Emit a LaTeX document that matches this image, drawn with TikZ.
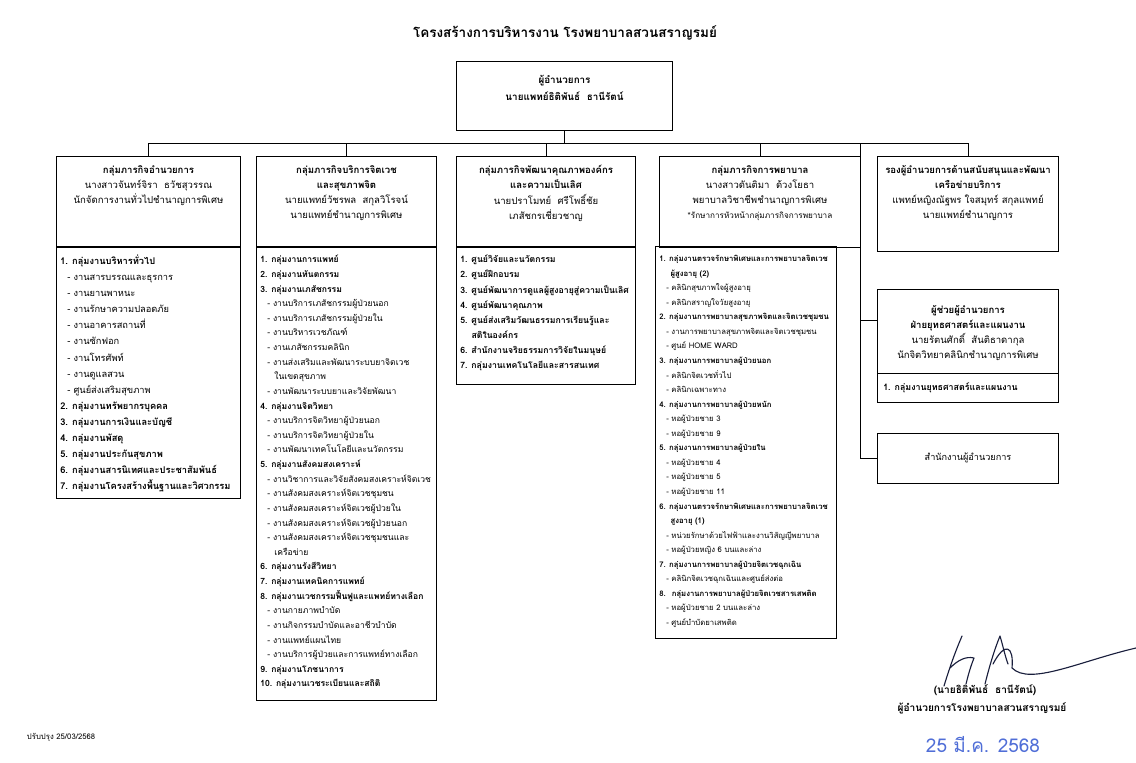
\documentclass[tikz,border=0pt]{standalone}
\usepackage{fontspec}
\setmainfont[Script=Thai]{Loma}
\definecolor{stampblue}{RGB}{80,110,215}
\definecolor{inkblue}{RGB}{25,30,60}
\newcommand{\grp}[1]{\textbf{#1}}
\newcommand{\sbt}[1]{\hspace*{5pt}- #1}

\begin{document}
\begin{tikzpicture}[x=0.025cm, y=-0.025cm,
  frame/.style={draw, line width=0.7pt, inner sep=0pt},
  headtext/.style={align=center, anchor=north, inner sep=0pt, font=\fontsize{6.8}{10.8}\selectfont},
  listtext/.style={align=left, anchor=north west, inner sep=0pt},
  wire/.style={line width=0.7pt}]
\useasboundingbox (0,0) rectangle (1136,762);

\node (title) at (565,33) {\fontsize{9.6}{12}\selectfont\bfseries โครงสร้างการบริหารงาน โรงพยาบาลสวนสราญรมย์};

\node[frame, minimum width=5.375cm, minimum height=1.7cm] (dirbox) at (564.5,96) {};
\node[headtext, font=\fontsize{7}{11.8}\selectfont\bfseries] (dirtext) at (564.5,75) {ผู้อำนวยการ\\นายแพทย์ธิติพันธ์~~ธานีรัตน์};

\node[frame, minimum width=4.575cm, minimum height=2.25cm] (admhead) at (148.5,202) {};
\node[frame, minimum width=4.575cm, minimum height=6.275cm] (admlist) at (148.5,372.5) {};
\node[headtext] (admtext) at (148.5,165) {\textbf{กลุ่มภารกิจอำนวยการ}\\นางสาวจันทร์จิรา~~ธวัชสุวรรณ\\นักจัดการงานทั่วไปชำนาญการพิเศษ};
\node[listtext, font=\fontsize{6.6}{11.4}\selectfont] (admitems) at (60,255) {\grp{1. กลุ่มงานบริหารทั่วไป}\\
\sbt{งานสารบรรณและธุรการ}\\
\sbt{งานยานพาหนะ}\\
\sbt{งานรักษาความปลอดภัย}\\
\sbt{งานอาคารสถานที่}\\
\sbt{งานซักฟอก}\\
\sbt{งานโทรศัพท์}\\
\sbt{งานดูแลสวน}\\
\sbt{ศูนย์ส่งเสริมสุขภาพ}\\
\grp{2. กลุ่มงานทรัพยากรบุคคล}\\
\grp{3. กลุ่มงานการเงินและบัญชี}\\
\grp{4. กลุ่มงานพัสดุ}\\
\grp{5. กลุ่มงานประกันสุขภาพ}\\
\grp{6. กลุ่มงานสารนิเทศและประชาสัมพันธ์}\\
\grp{7. กลุ่มงานโครงสร้างพื้นฐานและวิศวกรรม}};

\node[frame, minimum width=4.475cm, minimum height=2.25cm] (psyhead) at (346.5,202) {};
\node[frame, minimum width=4.475cm, minimum height=11.325cm] (psylist) at (346.5,473.5) {};
\node[headtext] (psytext) at (346.5,165) {\textbf{กลุ่มภารกิจบริการจิตเวช}\\\textbf{และสุขภาพจิต}\\นายแพทย์วัชรพล~~สกุลวิโรจน์\\นายแพทย์ชำนาญการพิเศษ};
\node[listtext, font=\fontsize{6.1}{10.4}\selectfont] (psyitems) at (260,255) {\grp{1. กลุ่มงานการแพทย์}\\
\grp{2. กลุ่มงานทันตกรรม}\\
\grp{3. กลุ่มงานเภสัชกรรม}\\
\sbt{งานบริการเภสัชกรรมผู้ป่วยนอก}\\
\sbt{งานบริการเภสัชกรรมผู้ป่วยใน}\\
\sbt{งานบริหารเวชภัณฑ์}\\
\sbt{งานเภสัชกรรมคลินิก}\\
\sbt{งานส่งเสริมและพัฒนาระบบยาจิตเวช}\\
\hspace*{10pt}ในเขตสุขภาพ\\
\sbt{งานพัฒนาระบบยาและวิจัยพัฒนา}\\
\grp{4. กลุ่มงานจิตวิทยา}\\
\sbt{งานบริการจิตวิทยาผู้ป่วยนอก}\\
\sbt{งานบริการจิตวิทยาผู้ป่วยใน}\\
\sbt{งานพัฒนาเทคโนโลยีและนวัตกรรม}\\
\grp{5. กลุ่มงานสังคมสงเคราะห์}\\
\sbt{งานวิชาการและวิจัยสังคมสงเคราะห์จิตเวช}\\
\sbt{งานสังคมสงเคราะห์จิตเวชชุมชน}\\
\sbt{งานสังคมสงเคราะห์จิตเวชผู้ป่วยใน}\\
\sbt{งานสังคมสงเคราะห์จิตเวชผู้ป่วยนอก}\\
\sbt{งานสังคมสงเคราะห์จิตเวชชุมชนและ}\\
\hspace*{10pt}เครือข่าย\\
\grp{6. กลุ่มงานรังสีวิทยา}\\
\grp{7. กลุ่มงานเทคนิคการแพทย์}\\
\grp{8. กลุ่มงานเวชกรรมฟื้นฟูและแพทย์ทางเลือก}\\
\sbt{งานกายภาพบำบัด}\\
\sbt{งานกิจกรรมบำบัดและอาชีวบำบัด}\\
\sbt{งานแพทย์แผนไทย}\\
\sbt{งานบริการผู้ป่วยและการแพทย์ทางเลือก}\\
\grp{9. กลุ่มงานโภชนาการ}\\
\grp{10. กลุ่มงานเวชระเบียนและสถิติ}};

\node[frame, minimum width=4.45cm, minimum height=2.25cm] (qualhead) at (546,202) {};
\node[frame, minimum width=4.45cm, minimum height=3.425cm] (quallist) at (546,315.5) {};
\node[headtext] (qualtext) at (546,165) {\textbf{กลุ่มภารกิจพัฒนาคุณภาพองค์กร}\\\textbf{และความเป็นเลิศ}\\นายปราโมทย์~~ศรีโพธิ์ชัย\\เภสัชกรเชี่ยวชาญ};
\node[listtext, font=\fontsize{6.2}{10.7}\selectfont] (qualitems) at (460,255) {\grp{1. ศูนย์วิจัยและนวัตกรรม}\\
\grp{2. ศูนย์ฝึกอบรม}\\
\grp{3. ศูนย์พัฒนาการดูแลผู้สูงอายุสู่ความเป็นเลิศ}\\
\grp{4. ศูนย์พัฒนาคุณภาพ}\\
\grp{5. ศูนย์ส่งเสริมวัฒนธรรมการเรียนรู้และ}\\
\hspace*{8pt}\grp{สติในองค์กร}\\
\grp{6. สำนักงานจริยธรรมการวิจัยในมนุษย์}\\
\grp{7. กลุ่มงานเทคโนโลยีและสารสนเทศ}};

\node[frame, minimum width=5cm, minimum height=2.25cm] (nurhead) at (760,202) {};
\node[frame, minimum width=4.5cm, minimum height=9.775cm] (nurlist) at (746,442.5) {};
\node[headtext] (nurtext) at (760,165) {\textbf{กลุ่มภารกิจการพยาบาล}\\นางสาวดันติมา~~ด้วงโยธา\\พยาบาลวิชาชีพชำนาญการพิเศษ\\{\fontsize{5.8}{10.8}\selectfont *รักษาการหัวหน้ากลุ่มภารกิจการพยาบาล}};
\node[listtext, font=\fontsize{5.5}{10.35}\selectfont] (nuritems) at (659,255) {\grp{1. กลุ่มงานตรวจรักษาพิเศษและการพยาบาลจิตเวช}\\
\hspace*{8pt}\grp{ผู้สูงอายุ (2)}\\
\sbt{คลินิกสุขภาพใจผู้สูงอายุ}\\
\sbt{คลินิกสราญใจวัยสูงอายุ}\\
\grp{2. กลุ่มงานการพยาบาลสุขภาพจิตและจิตเวชชุมชน}\\
\sbt{งานการพยาบาลสุขภาพจิตและจิตเวชชุมชน}\\
\sbt{ศูนย์ HOME WARD}\\
\grp{3. กลุ่มงานการพยาบาลผู้ป่วยนอก}\\
\sbt{คลินิกจิตเวชทั่วไป}\\
\sbt{คลินิกเฉพาะทาง}\\
\grp{4. กลุ่มงานการพยาบาลผู้ป่วยหนัก}\\
\sbt{หอผู้ป่วยชาย 3}\\
\sbt{หอผู้ป่วยชาย 9}\\
\grp{5. กลุ่มงานการพยาบาลผู้ป่วยใน}\\
\sbt{หอผู้ป่วยชาย 4}\\
\sbt{หอผู้ป่วยชาย 5}\\
\sbt{หอผู้ป่วยชาย 11}\\
\grp{6. กลุ่มงานตรวจรักษาพิเศษและการพยาบาลจิตเวช}\\
\hspace*{8pt}\grp{สูงอายุ (1)}\\
\sbt{หน่วยรักษาด้วยไฟฟ้าและงานวิสัญญีพยาบาล}\\
\sbt{หอผู้ป่วยหญิง 6 บนและล่าง}\\
\grp{7. กลุ่มงานการพยาบาลผู้ป่วยจิตเวชฉุกเฉิน}\\
\sbt{คลินิกจิตเวชฉุกเฉินและศูนย์ส่งต่อ}\\
\grp{8.~ กลุ่มงานการพยาบาลผู้ป่วยจิตเวชสารเสพติด}\\
\sbt{หอผู้ป่วยชาย 2 บนและล่าง}\\
\sbt{ศูนย์บำบัดยาเสพติด}};

\node[frame, minimum width=4.5cm, minimum height=2.35cm] (suphead) at (968,204) {};
\node[headtext] (suptext) at (968,165) {\textbf{รองผู้อำนวยการด้านสนับสนุนและพัฒนา}\\\textbf{เครือข่ายบริการ}\\แพทย์หญิงณัฐพร ใจสมุทร์ สกุลแพทย์\\นายแพทย์ชำนาญการ};

\node[frame, minimum width=4.5cm, minimum height=2.1cm] (asthead) at (968,331) {};
\node[frame, minimum width=4.5cm, minimum height=0.725cm] (astlist) at (968,387.5) {};
\node[headtext] (asttext) at (968,305) {\textbf{ผู้ช่วยผู้อำนวยการ}\\\textbf{ฝ่ายยุทธศาสตร์และแผนงาน}\\นายรัตนศักดิ์~~สันติธาดากุล\\นักจิตวิทยาคลินิกชำนาญการพิเศษ};
\node[listtext, anchor=west, font=\fontsize{6.3}{10}\selectfont] (astitems) at (883,387.5) {\grp{1. กลุ่มงานยุทธศาสตร์และแผนงาน}};

\node[frame, minimum width=4.5cm, minimum height=1.25cm, font=\fontsize{6.5}{8}\selectfont] (offbox) at (968,458) {สำนักงานผู้อำนวยการ};

\coordinate (bus) at (564.5,143);
\coordinate (branch) at (860,143);
\coordinate (aststub) at (878,320);
\draw[wire] (dirbox.south) -- (bus);
\draw[wire] (admhead.north |- bus) -- (suphead.north |- bus);
\foreach \n in {admhead, psyhead, qualhead, nurhead, suphead}
  \draw[wire] (\n.north |- bus) -- (\n.north);
\draw[wire] (branch) |- (offbox.west);
\draw[wire] (aststub -| branch) -- (aststub);

\node[anchor=west, font=\fontsize{5.5}{6}\selectfont] (update) at (22,737) {ปรับปรุง 25/03/2568};

\draw[inkblue, line width=0.8pt, line cap=round]
  (944,686) .. controls (950,666) and (956,650) .. (962,636)
  (950,668) .. controls (958,660) and (966,656) .. (974,658)
  (974,658) .. controls (970,668) and (968,676) .. (966,684)
  (985,684) .. controls (990,664) and (995,648) .. (1000,636)
  (1000,636) .. controls (1003,646) and (1005,656) .. (1008,664)
  (993,664) .. controls (1005,641) and (1014,646) .. (1012,668)
  (1012,668) .. controls (1030,686) and (1080,661) .. (1136,648);
\node[font=\fontsize{7.2}{8}\selectfont\bfseries] (signame) at (985,690) {(นายธิติพันธ์~~ธานีรัตน์)};
\node[font=\fontsize{7.2}{8}\selectfont\bfseries] (signpos) at (982,708) {ผู้อำนวยการโรงพยาบาลสวนสราญรมย์};
\node[text=stampblue, font=\fontsize{13.5}{16}\selectfont] (stamp) at (983,744) {25 มี.ค. 2568};
\end{tikzpicture}
\end{document}
